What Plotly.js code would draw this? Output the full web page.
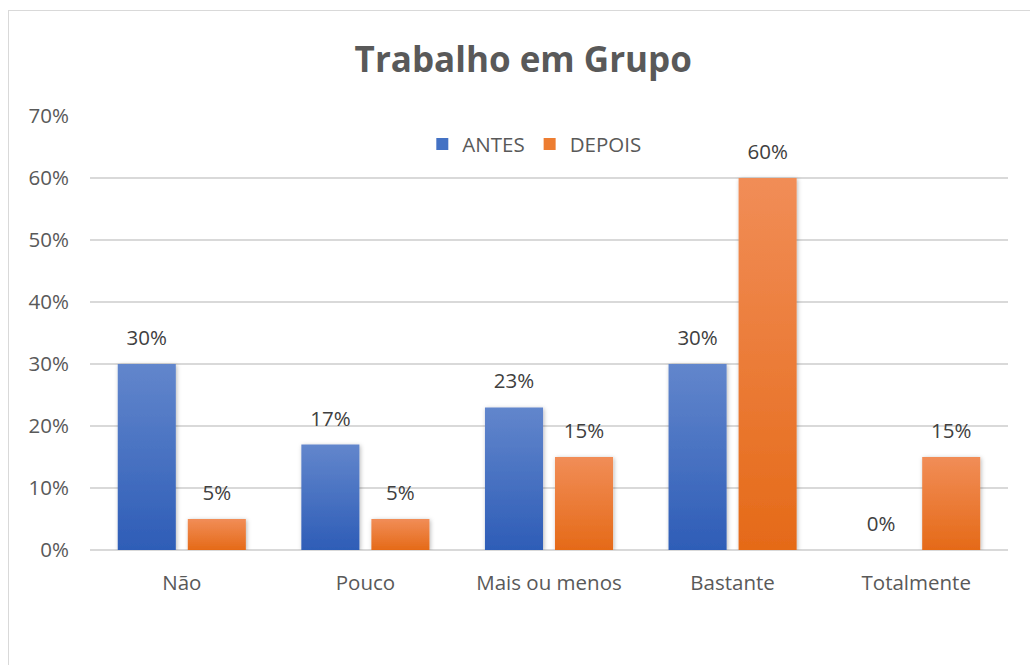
<!DOCTYPE html>
<html>
<head>
<meta charset="utf-8">
<script src="https://cdn.plot.ly/plotly-3.0.1.min.js"></script>
<style>
  html, body { margin: 0; padding: 0; background: #fff; }
  #wrap { position: relative; width: 1030px; height: 665px; overflow: hidden; }
  #chart { width: 1030px; height: 665px; }
  #frame { position: absolute; left: 8px; top: 10px; width: 1100px; height: 800px;
           border: 1.5px solid #d9d9d9; pointer-events: none; box-sizing: border-box; }
</style>
</head>
<body>
<div id="wrap">
  <div id="chart"></div>
  <div id="frame"></div>
</div>
<script>
const categories = ["Não", "Pouco", "Mais ou menos", "Bastante", "Totalmente"];
const antes = [0.30, 0.17, 0.23, 0.30, 0.00];
const depois = [0.05, 0.05, 0.15, 0.60, 0.15];
const seriesNames = ["ANTES", "DEPOIS"];
const yTicks = [0, 0.1, 0.2, 0.3, 0.4, 0.5, 0.6, 0.7];

const font = "'Open Sans', 'DejaVu Sans', sans-serif";
const textColor = "#595959";

const traces = [
  {
    type: "bar", name: seriesNames[0], x: categories, y: antes,
    marker: { color: "#4472C4" },
    texttemplate: "%{y:.0%}", textposition: "outside", cliponaxis: false,
    textfont: { family: font, size: 20.5, color: "#404040" }
  },
  {
    type: "bar", name: seriesNames[1], x: categories, y: depois,
    marker: { color: "#ED7D31" },
    texttemplate: "%{y:.0%}", textposition: "outside", cliponaxis: false,
    textfont: { family: font, size: 20.5, color: "#404040" }
  }
];

const layout = {
  width: 1030, height: 665,
  paper_bgcolor: "rgba(0,0,0,0)", plot_bgcolor: "#fff",
  margin: { l: 90, r: 22, t: 116, b: 115 },
  font: { family: font, color: textColor },
  title: {
    text: "<b>Trabalho em Grupo</b>",
    font: { family: font, size: 35, color: textColor },
    x: 0.508, xanchor: "center", y: 0.91, yanchor: "middle"
  },
  barmode: "group", bargap: 0.237, bargroupgap: 0.171,
  showlegend: true,
  legend: {
    orientation: "h", x: 0.484, xanchor: "center", y: 0.935, yanchor: "middle",
    font: { family: font, size: 20.5, color: textColor },
    itemwidth: 30, bgcolor: "rgba(0,0,0,0)"
  },
  xaxis: {
    showgrid: false, showline: false, zeroline: false, ticks: "",
    tickfont: { family: font, size: 20.5, color: textColor },
    ticklabelstandoff: 18
  },
  yaxis: {
    range: [0, 0.7], tickvals: yTicks, tickformat: ".0%",
    showgrid: true, gridcolor: "#d9d9d9", gridwidth: 1.5,
    zeroline: true, zerolinecolor: "#d9d9d9", zerolinewidth: 1.5,
    showline: false, ticks: "",
    tickfont: { family: font, size: 20.5, color: textColor },
    ticklabelstandoff: 20
  }
};

Plotly.newPlot("chart", traces, layout, { displayModeBar: false, staticPlot: true }).then(function (gd) {
  const svg = gd.querySelector("svg.main-svg");
  const NS = "http://www.w3.org/2000/svg";
  let defs = svg.querySelector("defs");
  if (!defs) { defs = document.createElementNS(NS, "defs"); svg.insertBefore(defs, svg.firstChild); }
  function grad(id, top, bottom) {
    const g = document.createElementNS(NS, "linearGradient");
    g.setAttribute("id", id); g.setAttribute("x1", "0"); g.setAttribute("y1", "0");
    g.setAttribute("x2", "0"); g.setAttribute("y2", "1");
    [[0, top], [1, bottom]].forEach(function (s) {
      const st = document.createElementNS(NS, "stop");
      st.setAttribute("offset", s[0]); st.setAttribute("stop-color", s[1]);
      g.appendChild(st);
    });
    defs.appendChild(g);
  }
  grad("gradAntes", "#6286CC", "#2E5DB7");
  grad("gradDepois", "#F18D57", "#E56A18");
  const f = document.createElementNS(NS, "filter");
  f.setAttribute("id", "barShadow");
  f.setAttribute("x", "-20%"); f.setAttribute("y", "-20%");
  f.setAttribute("width", "140%"); f.setAttribute("height", "140%");
  const ds = document.createElementNS(NS, "feDropShadow");
  ds.setAttribute("dx", "1"); ds.setAttribute("dy", "1");
  ds.setAttribute("stdDeviation", "2"); ds.setAttribute("flood-color", "#000");
  ds.setAttribute("flood-opacity", "0.28");
  f.appendChild(ds); defs.appendChild(f);

  const ids = ["gradAntes", "gradDepois"];
  gd.querySelectorAll(".barlayer .trace.bars").forEach(function (tr, i) {
    tr.querySelectorAll("path").forEach(function (p) {
      p.style.fill = "url(#" + ids[i] + ")";
      p.setAttribute("filter", "url(#barShadow)");
    });
    tr.querySelectorAll("text.bartext").forEach(function (t) {
      const old = t.getAttribute("transform") || "";
      t.setAttribute("transform", "translate(0,-10) " + old);
    });
  });
});
</script>
</body>
</html>
